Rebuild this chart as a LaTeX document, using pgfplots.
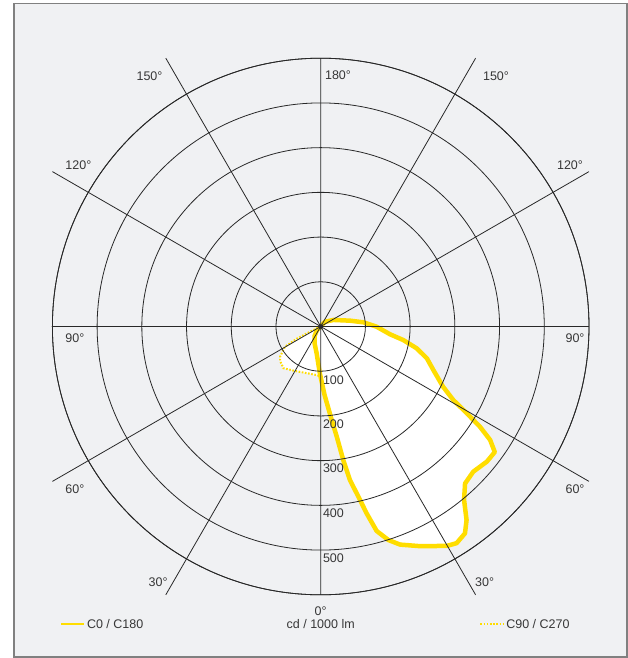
\documentclass[border=0pt]{standalone}
\usepackage{fontspec}
\setmainfont{Liberation Sans}
\usepackage{pgfplots}
\usepackage{pgfplotstable}
\pgfplotsset{compat=1.18}
\usepgfplotslibrary{polar}
\definecolor{bgc}{RGB}{240,241,243}
\definecolor{bordc}{RGB}{128,128,128}
\definecolor{gridc}{RGB}{40,40,40}
\definecolor{yel}{RGB}{255,221,0}
\definecolor{txt}{RGB}{55,55,55}

% C0 / C180 : t = angle from nadir (deg, + towards C0), r = cd/1000 lm
\pgfplotstableread{
t r
-90 0
-45 12
-33 25
-20 40
-8.5 61
-1 105
3.2 153
6.7 210
8.3 249
9.6 303
10.8 350
12.5 390
13.8 430
15.3 474
17.6 501
20.0 519
24.3 539
29.9 566
32.1 572
34.9 564
37.0 542
39.6 503
42.6 477
46.4 471
50.9 479
54.2 480
56.2 456
57.8 421
59.3 380
61.0 339
63.8 305
68.9 270
73.3 248
77.2 220
80.7 187
83.6 156
89.8 125
95.6 96
101.2 67
117.3 32
138.1 14
180 0
}\tabA

% C90 / C270
\pgfplotstableread{
t r
-90 0
-64 27
-63 60
-60.5 92
-53.4 113
-49.7 119
-41.8 125
-31.8 116
-20.6 110
-4.7 109
0 112
4.7 109
20.6 110
31.8 116
41.8 125
49.7 119
53.4 113
60.5 92
63 60
64 27
90 0
}\tabB

\begin{document}
\begin{tikzpicture}[x=1pt,y=1pt,font=\fontsize{12.5}{15}\selectfont,text=txt]
\useasboundingbox (-320.7,-331.5) rectangle (307.3,326.5);
\fill[bgc] (-306.7,323.2) rectangle (306.3,-330.5);
\draw[bordc,line width=1.5] (-306.7,323.2) rectangle (306.3,-330.5);

\begin{polaraxis}[
  at={(0,0)}, anchor=center,
  scale only axis, width=536.6pt, height=536.6pt,
  xmin=0, xmax=360, ymin=0, ymax=600,
  xtick={0,30,...,330}, ytick={100,200,...,600},
  xticklabels={}, yticklabels={},
  major tick length=0pt,
  grid=major,
  major grid style={draw=gridc,line width=0.8pt},
  axis line style={draw=gridc,line width=0.8pt},
  axis on top,
  legend columns=2,
  legend image code/.code={\draw[#1] (0pt,0pt) -- (23pt,0pt);},
  legend style={at={(axis description cs:0.0142,-0.055)}, anchor=west,
    draw=none, fill=none, inner sep=0pt, outer sep=0pt,
    font=\fontsize{12.5}{15}\selectfont, text=txt,
    /tikz/every even column/.append style={column sep=334pt}},
]
\addplot[forget plot, draw=yel, line width=2pt, dash pattern=on 1.6pt off 1.6pt, fill=white]
  table[x expr=\thisrow{t}-90, y=r] {\tabB};
\addplot[forget plot, draw=yel, line width=4.5pt, line join=round, fill=white]
  table[x expr=\thisrow{t}-90, y=r] {\tabA};
\addlegendimage{draw=yel, line width=2pt}
\addlegendentry{C0 / C180}
\addlegendimage{draw=yel, line width=2pt, dash pattern=on 1.6pt off 1.6pt}
\addlegendentry{C90 / C270}
\end{polaraxis}

% radial lines continued to the bounding square
\foreach \a in {30,150,210,330}{
  \draw[gridc,line width=0.8pt] ({268.3*cos(\a)},{268.3*sin(\a)}) -- ({268.3*sign(cos(\a))},{268.3*sin(\a)/abs(cos(\a))});
}
\foreach \a in {60,120,240,300}{
  \draw[gridc,line width=0.8pt] ({268.3*cos(\a)},{268.3*sin(\a)}) -- ({268.3*cos(\a)/abs(sin(\a))},{268.3*sign(sin(\a))});
}

% angle labels
\node at (17.3,250.8) {180°};
\node at (-171.2,249.8) {150°};
\node at (175.3,249.8) {150°};
\node at (-242.3,160.8) {120°};
\node at (249.3,160.8) {120°};
\node at (-245.8,-11.3) {90°};
\node at (254.3,-11.3) {90°};
\node at (-245.8,-162.4) {60°};
\node at (254.3,-162.4) {60°};
\node at (-162.5,-256) {30°};
\node at (163.9,-256) {30°};
\node at (0,-284.2) {0°};
\node at (0,-297.8) {cd / 1000 lm};
% intensity labels
\foreach \v/\y in {100/-53.3,200/-97.3,300/-141.8,400/-187.1,500/-231.6}{
  \node[anchor=west,inner sep=0pt] at (2.1,\y) {\v};
}
\end{tikzpicture}
\end{document}
